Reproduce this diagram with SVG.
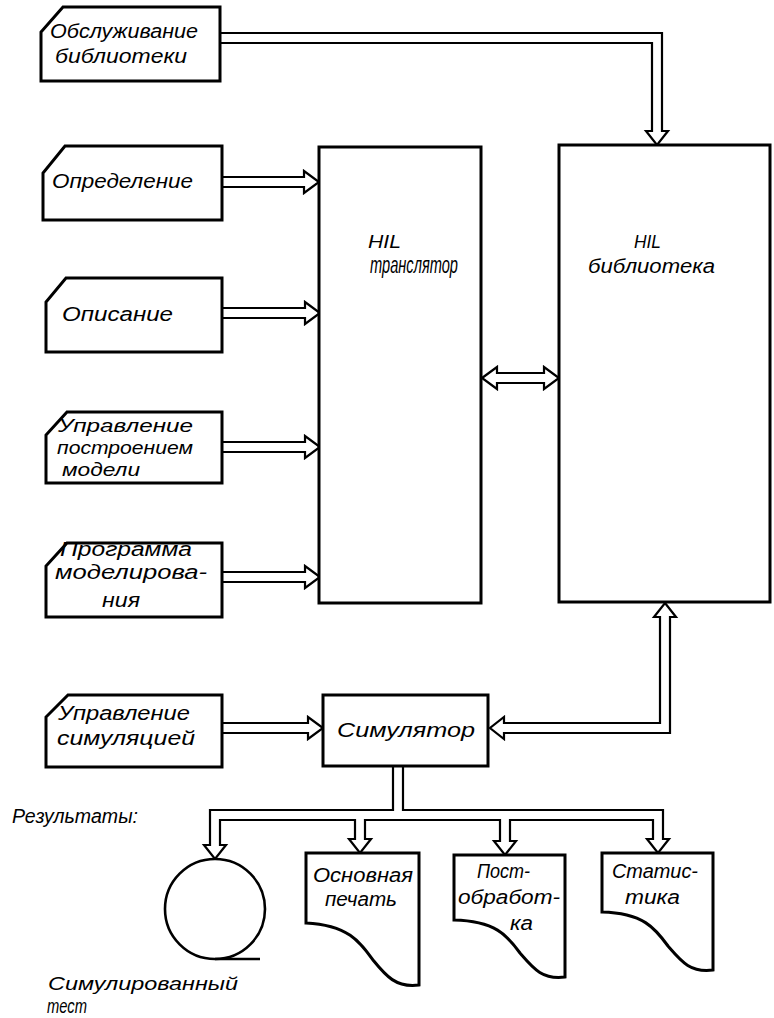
<svg xmlns="http://www.w3.org/2000/svg" width="774" height="1018" viewBox="0 0 774 1018">
  <style>
    .box { fill: #fff; stroke: #000; stroke-width: 3; stroke-linejoin: miter; }
    .con { fill: #fff; stroke: #000; stroke-width: 2.2; stroke-linejoin: miter; }
    .t { font-family: "Liberation Sans", "DejaVu Sans", sans-serif; font-style: italic; font-size: 20px; fill: #000; }
    .s { font-size: 18px; }
    .m { font-size: 19px; }
    .l { font-size: 23px; }
  </style>
  <defs>
    <!-- hollow double-line arrow from an input card into the translator -->
    <polyline id="inArrow" points="0,-5 83,-5 83,-11 98,0 83,11 83,5 0,5"/>
  </defs>

  <!-- connectors -->
  <g id="connectors">
    <polyline class="con" points="220,33 662,33 662,131 668,131 657,145 646,131 652,131 652,43 220,43"/>
    <use href="#inArrow" class="con" x="221" y="182"/>
    <use href="#inArrow" class="con" x="222" y="313"/>
    <use href="#inArrow" class="con" x="222" y="447"/>
    <use href="#inArrow" class="con" x="222" y="577"/>
    <polyline class="con" points="222,723 308,723 308,717 323,728 308,739 308,733 222,733"/>
    <polygon class="con" points="482,378 497,367 497,373 544,373 544,367 559,378 544,389 544,383 497,383 497,389"/>
    <polygon class="con" points="665,603 676,617 670,617 670,733 504,733 504,739 490,728 504,717 504,723 660,723 660,617 654,617"/>
    <polyline class="con" points="393,766 393,810 210,810 210,845 204,845 215,859 226,845 220,845 220,820 355,820 355,839 349,839 360,853 371,839 365,839 365,820 500,820 500,841 494,841 505,855 516,841 510,841 510,820 653,820 653,839 647,839 658,853 669,839 663,839 663,810 403,810 403,766"/>
  </g>

  <!-- input cards -->
  <g id="card-maintenance">
    <path class="box" d="M63,7 H220 V81 H41 V32 Z"/>
    <text class="t" x="50" y="38" textLength="148" lengthAdjust="spacingAndGlyphs">Обслуживание</text>
    <text class="t" x="55" y="63" textLength="132" lengthAdjust="spacingAndGlyphs">библиотеки</text>
  </g>
  <g id="card-definition">
    <path class="box" d="M65,146 H222 V220 H43 V173 Z"/>
    <text class="t" x="52" y="188" textLength="141" lengthAdjust="spacingAndGlyphs">Определение</text>
  </g>
  <g id="card-description">
    <path class="box" d="M66,278 H222 V352 H46 V302 Z"/>
    <text class="t" x="62" y="321" textLength="111" lengthAdjust="spacingAndGlyphs">Описание</text>
  </g>
  <g id="card-build-control">
    <path class="box" d="M67,412 H222 V483 H46 V435 Z"/>
    <text class="t m" x="58" y="432" textLength="135" lengthAdjust="spacingAndGlyphs">Управление</text>
    <text class="t m" x="57" y="454" textLength="136" lengthAdjust="spacingAndGlyphs">построением</text>
    <text class="t m" x="62" y="476" textLength="78" lengthAdjust="spacingAndGlyphs">модели</text>
  </g>
  <g id="card-program">
    <path class="box" d="M67,543 H222 V617 H46 V566 Z"/>
    <text class="t" x="60" y="556" textLength="132" lengthAdjust="spacingAndGlyphs">Программа</text>
    <text class="t" x="55" y="579" textLength="152" lengthAdjust="spacingAndGlyphs">моделирова-</text>
    <text class="t" x="102" y="607" textLength="38" lengthAdjust="spacingAndGlyphs">ния</text>
  </g>
  <g id="card-sim-control">
    <path class="box" d="M68,695 H222 V767 H46 V717 Z"/>
    <text class="t" x="58" y="720" textLength="132" lengthAdjust="spacingAndGlyphs">Управление</text>
    <text class="t" x="57" y="745" textLength="138" lengthAdjust="spacingAndGlyphs">симуляцией</text>
  </g>

  <!-- main blocks -->
  <g id="translator">
    <rect class="box" x="319" y="147" width="162" height="456"/>
    <text class="t s" x="368" y="248" textLength="33" lengthAdjust="spacingAndGlyphs">HIL</text>
    <text class="t l" x="370" y="273" textLength="88" lengthAdjust="spacingAndGlyphs">транслятор</text>
  </g>
  <g id="library">
    <rect class="box" x="559" y="145" width="211" height="457"/>
    <text class="t s" x="634" y="248" textLength="27" lengthAdjust="spacingAndGlyphs">HIL</text>
    <text class="t" x="588" y="273" textLength="127" lengthAdjust="spacingAndGlyphs">библиотека</text>
  </g>
  <g id="simulator">
    <rect class="box" x="323" y="695" width="165" height="71"/>
    <text class="t" x="337" y="737" textLength="138" lengthAdjust="spacingAndGlyphs">Симулятор</text>
  </g>

  <!-- results -->
  <g id="results-label">
    <text class="t" x="12" y="823" textLength="126" lengthAdjust="spacingAndGlyphs">Результаты:</text>
  </g>
  <g id="simulated-test">
    <circle cx="215" cy="909" r="50" fill="#fff" stroke="#000" stroke-width="2.6"/>
    <line x1="215" y1="959" x2="260" y2="959" stroke="#000" stroke-width="2.6"/>
    <text class="t m" x="48" y="990" textLength="190" lengthAdjust="spacingAndGlyphs">Симулированный</text>
    <text class="t" x="47" y="1013" textLength="40" lengthAdjust="spacingAndGlyphs">тест</text>
  </g>
  <g id="main-print">
    <path class="box" d="M306,853 H419 V985 C396,988 386,976 373,960 C360,942 348,925 306,923 Z"/>
    <text class="t" x="313" y="882" textLength="100" lengthAdjust="spacingAndGlyphs">Основная</text>
    <text class="t" x="325" y="906" textLength="72" lengthAdjust="spacingAndGlyphs">печать</text>
  </g>
  <g id="postprocessing">
    <path class="box" d="M454,855 H565 V977 C542,980 533,968 520,953 C507,935 495,921 454,920 Z"/>
    <text class="t" x="477" y="878" textLength="53" lengthAdjust="spacingAndGlyphs">Пост-</text>
    <text class="t" x="458" y="904" textLength="102" lengthAdjust="spacingAndGlyphs">обработ-</text>
    <text class="t" x="510" y="930" textLength="23" lengthAdjust="spacingAndGlyphs">ка</text>
  </g>
  <g id="statistics">
    <path class="box" d="M602,853 H713 V970 C690,973 681,961 668,946 C655,928 643,913 602,912 Z"/>
    <text class="t" x="612" y="878" textLength="86" lengthAdjust="spacingAndGlyphs">Статис-</text>
    <text class="t" x="625" y="904" textLength="55" lengthAdjust="spacingAndGlyphs">тика</text>
  </g>
</svg>
